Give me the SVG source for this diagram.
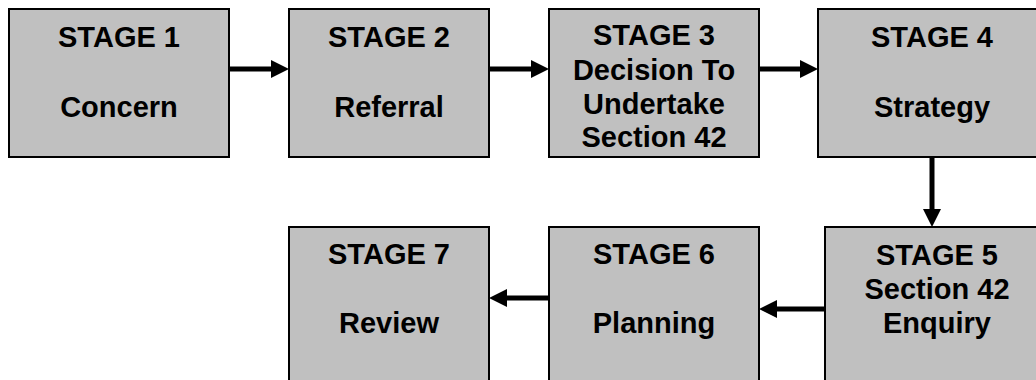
<svg xmlns="http://www.w3.org/2000/svg" width="1036" height="380" viewBox="0 0 1036 380">
<style>
.box{fill:#C0C0C0;stroke:#000;stroke-width:2}
.t{font-family:"Liberation Sans",Arial,sans-serif;font-weight:bold;font-size:29px;fill:#000;text-anchor:middle}
.con{stroke:#000;stroke-width:5;fill:none;marker-end:url(#ah)}
</style>
<defs>
<marker id="ah" markerUnits="userSpaceOnUse" markerWidth="18" markerHeight="18" refX="10" refY="9" orient="auto">
<path d="M0,0 L18,9 L0,18 z" fill="#000"/>
</marker>
</defs>
<rect width="1036" height="380" fill="#fff"/>
<g id="connectors">
<line class="con" x1="229" y1="69" x2="281" y2="69"/>
<line class="con" x1="489" y1="69" x2="541" y2="69"/>
<line class="con" x1="759" y1="69" x2="810" y2="69"/>
<line class="con" x1="932" y1="157" x2="932" y2="219"/>
<line class="con" x1="825" y1="309" x2="767" y2="309"/>
<line class="con" x1="549" y1="298" x2="497" y2="298"/>
</g>
<g id="stage1">
<rect class="box" x="9" y="9" width="220" height="148"/>
<text class="t" x="119" y="47">STAGE 1</text>
<text class="t" x="119" y="117">Concern</text>
</g>
<g id="stage2">
<rect class="box" x="289" y="9" width="200" height="148"/>
<text class="t" x="389" y="47">STAGE 2</text>
<text class="t" x="389" y="117">Referral</text>
</g>
<g id="stage3">
<rect class="box" x="549" y="9" width="210" height="148"/>
<text class="t" x="654" y="45">STAGE 3</text>
<text class="t" x="654" y="80">Decision To</text>
<text class="t" x="654" y="114">Undertake</text>
<text class="t" x="654" y="147">Section 42</text>
</g>
<g id="stage4">
<rect class="box" x="818" y="9" width="228" height="148"/>
<text class="t" x="932" y="47">STAGE 4</text>
<text class="t" x="932" y="117">Strategy</text>
</g>
<g id="stage5">
<rect class="box" x="825" y="227" width="226" height="170"/>
<text class="t" x="937" y="265">STAGE 5</text>
<text class="t" x="937" y="299">Section 42</text>
<text class="t" x="937" y="333">Enquiry</text>
</g>
<g id="stage6">
<rect class="box" x="549" y="227" width="210" height="170"/>
<text class="t" x="654" y="264">STAGE 6</text>
<text class="t" x="654" y="333">Planning</text>
</g>
<g id="stage7">
<rect class="box" x="289" y="227" width="200" height="170"/>
<text class="t" x="389" y="264">STAGE 7</text>
<text class="t" x="389" y="333">Review</text>
</g>
</svg>
